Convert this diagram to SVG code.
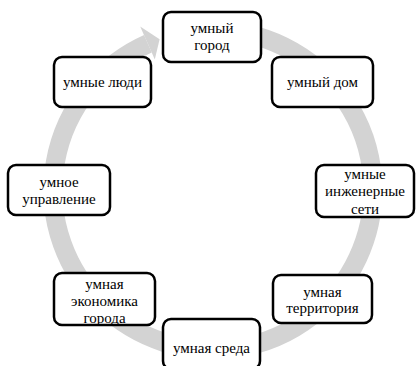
<svg xmlns="http://www.w3.org/2000/svg" width="416" height="366" viewBox="0 0 416 366">
<style>
.n rect{fill:#fff;stroke:#000;stroke-width:2.5}
.n text{font-family:'Liberation Serif','Times New Roman',serif;font-size:15px;fill:#000;text-anchor:middle}
.ring{fill:none;stroke:#d3d3d3;stroke-width:19;stroke-linecap:butt}
</style>
<rect width="416" height="366" fill="#fff"/>
<g id="connectors">
<path class="ring" d="M 213 30 A 160 160 0 1 1 147.9 43.8"/>
<polygon points="140.2,26.5 159.6,39.2 154.8,59.4" fill="#d3d3d3"/>
</g>
<g id="n1" class="n"><rect x="163" y="12" width="98" height="50" rx="8"/><text x="212" y="33">умный</text><text x="212" y="50">город</text></g>
<g id="n2" class="n"><rect x="272" y="57" width="101" height="50" rx="8"/><text x="322.5" y="87">умный дом</text></g>
<g id="n3" class="n"><rect x="316" y="165" width="98" height="52" rx="8"/><text x="365" y="178.5">умные</text><text x="365" y="196">инженерные</text><text x="365" y="213.5">сети</text></g>
<g id="n4" class="n"><rect x="273" y="275" width="99" height="48" rx="8"/><text x="322.5" y="296.5">умная</text><text x="322.5" y="313">территория</text></g>
<g id="n5" class="n"><rect x="163" y="319" width="97" height="50" rx="8"/><text x="211.5" y="353">умная среда</text></g>
<g id="n6" class="n"><rect x="54" y="273" width="101" height="52" rx="8"/><text x="104.5" y="288.5">умная</text><text x="104.5" y="306">экономика</text><text x="104.5" y="322.5">города</text></g>
<g id="n7" class="n"><rect x="8" y="165" width="102" height="50" rx="8"/><text x="59" y="187">умное</text><text x="59" y="203.5">управление</text></g>
<g id="n8" class="n"><rect x="54" y="57" width="97" height="50" rx="8"/><text x="102.5" y="87">умные люди</text></g>
</svg>
